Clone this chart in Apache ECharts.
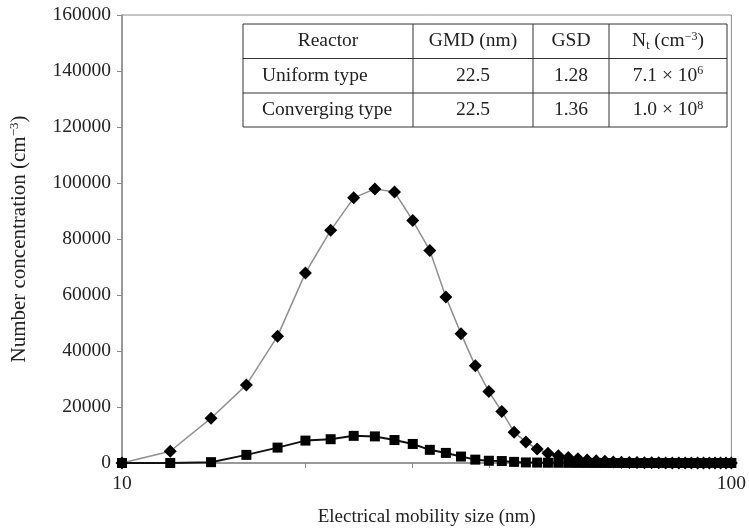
<!DOCTYPE html>
<html>
<head>
<meta charset="utf-8">
<script src="https://cdn.jsdelivr.net/npm/echarts@6/dist/echarts.min.js"></script>
<style>
  html, body { margin: 0; padding: 0; background: #fff; }
  #chart { width: 749px; height: 532px; }
</style>
</head>
<body>
<div id="chart"></div>
<script>
// electrical mobility size (nm)
const sizes = [10, 12, 14, 16, 18, 20, 22, 24, 26, 28, 30, 32, 34, 36, 38, 40, 42, 44, 46, 48,
  50, 52, 54, 56, 58, 60, 62, 64, 66, 68, 70, 72, 74, 76, 78, 80, 82, 84, 86, 88,
  90, 92, 94, 96, 98, 100]
// uniform type reactor (squares)
const uniform = [0, 0, 300, 2900, 5500, 8000, 8500, 9700, 9500, 8200, 6800, 4700, 3600, 2300, 1200, 800, 700, 400, 200, 150,
  100, 80, 60, 40, 30, 20, 15, 10, 8, 5, 4, 3, 2, 1, 0, 0, 0, 0, 0, 0,
  0, 0, 0, 0, 0, 0]
// converging type reactor (diamonds)
const converging = [0, 4200, 16000, 27900, 45300, 67900, 83100, 94700, 97900, 96800, 86600, 75900, 59300, 46200, 34700, 25500, 18400, 11000, 7500, 5000,
  3500, 2600, 2000, 1500, 1100, 800, 600, 400, 300, 200, 150, 100, 80, 60, 40, 30, 20, 15, 10, 8,
  5, 3, 2, 1, 0, 0]
const xTicks = [10, 20, 30, 40, 50, 60, 70, 80, 90, 100]
const xLabels = [10, 100]

// inset table
const tableHead = ['Reactor', 'GMD (nm)', 'GSD', 'N{sub|t} (cm{sup|−3})']
const tableRows = [
  ['Uniform type', '22.5', '1.28', '7.1 × 10{sup|6}'],
  ['Converging type', '22.5', '1.36', '1.0 × 10{sup|8}']
]

const font = 'Liberation Serif'
const ink = '#222'
const axisGray = '#8a8a8a'

const colX = [243, 413, 533, 609, 727]
const rowY = [24, 58.5, 93, 127]
const richStyle = {
  sup: { fontSize: 12, fontFamily: font, fill: ink, verticalAlign: 'top', lineHeight: 12 },
  sub: { fontSize: 12, fontFamily: font, fill: ink, verticalAlign: 'bottom', lineHeight: 8 }
}

let tableEls = []
// borders
tableEls.push({ type: 'rect', shape: { x: colX[0], y: rowY[0], width: colX[4] - colX[0], height: rowY[3] - rowY[0] },
  style: { fill: '#fff', stroke: '#333', lineWidth: 1 } })
for (let i = 1; i < rowY.length - 1; i++) {
  tableEls.push({ type: 'line', shape: { x1: colX[0], y1: rowY[i], x2: colX[4], y2: rowY[i] }, style: { stroke: '#333', lineWidth: 1 } })
}
for (let i = 1; i < colX.length - 1; i++) {
  tableEls.push({ type: 'line', shape: { x1: colX[i], y1: rowY[0], x2: colX[i], y2: rowY[3] }, style: { stroke: '#333', lineWidth: 1 } })
}
const allRows = [tableHead].concat(tableRows)
allRows.forEach((row, r) => {
  row.forEach((txt, c) => {
    const leftCell = c === 0 && r > 0
    tableEls.push({
      type: 'text',
      x: leftCell ? colX[0] + 19 : (colX[c] + colX[c + 1]) / 2,
      y: (rowY[r] + rowY[r + 1]) / 2,
      style: {
        text: txt,
        fontFamily: font,
        fontSize: 19.5,
        fill: ink,
        align: leftCell ? 'left' : 'center',
        verticalAlign: 'middle',
        lineHeight: 21,
        rich: richStyle
      }
    })
  })
})

const chart = echarts.init(document.getElementById('chart'), null, { renderer: 'canvas' })
chart.setOption({
  backgroundColor: '#fff',
  animation: false,
  grid: {
    left: 121.5, right: 12.5, top: 15, bottom: 68,
    show: true, borderColor: axisGray, borderWidth: 1
  },
  xAxis: {
    type: 'log',
    logBase: 10,
    min: 10,
    max: 100,
    name: 'Electrical mobility size (nm)',
    nameLocation: 'middle',
    nameGap: 45,
    nameTextStyle: { fontFamily: font, fontSize: 19, color: ink },
    axisLine: { lineStyle: { color: axisGray, width: 1.5 } },
    axisTick: { show: true, inside: false, length: 5, customValues: xTicks, lineStyle: { color: axisGray } },
    minorTick: { show: false },
    splitLine: { show: false },
    axisLabel: { customValues: xLabels, fontFamily: font, fontSize: 19.5, color: ink, margin: 11 }
  },
  yAxis: {
    type: 'value',
    min: 0,
    max: 160000,
    interval: 20000,
    name: 'Number concentration (cm{sup|−3})',
    nameLocation: 'middle',
    nameGap: 92,
    nameTextStyle: {
      fontFamily: font, fontSize: 21, color: ink, lineHeight: 22,
      rich: {
        sup: { fontFamily: font, fontSize: 13, color: ink, verticalAlign: 'top', lineHeight: 13 }
      }
    },
    axisLine: { show: true, lineStyle: { color: axisGray, width: 1.5 } },
    axisTick: { show: true, inside: false, length: 5, lineStyle: { color: axisGray } },
    splitLine: { show: false },
    axisLabel: { fontFamily: font, fontSize: 19.5, color: ink, margin: 11, formatter: (v) => String(v) }
  },
  series: [
    {
      name: 'Uniform type',
      type: 'line',
      data: sizes.map((s, i) => [s, uniform[i]]),
      symbol: 'rect',
      symbolSize: 10,
      showAllSymbol: true,
      lineStyle: { color: '#111', width: 2 },
      itemStyle: { color: '#000' },
      z: 3
    },
    {
      name: 'Converging type',
      type: 'line',
      data: sizes.map((s, i) => [s, converging[i]]),
      symbol: 'diamond',
      symbolSize: 13,
      showAllSymbol: true,
      lineStyle: { color: '#8f8f8f', width: 1.5 },
      itemStyle: { color: '#000' },
      z: 4
    }
  ],
  graphic: [{ type: 'group', children: tableEls, z: 10 }]
})
</script>
</body>
</html>
